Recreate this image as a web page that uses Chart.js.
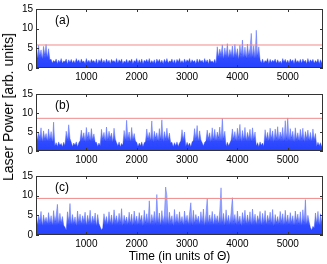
<!DOCTYPE html>
<html>
<head>
<meta charset="utf-8">
<script src="https://cdn.jsdelivr.net/npm/chart.js@4.4.1/dist/chart.umd.min.js"></script>
<style>
  body { margin:0; background:#fff; width:327px; height:264px; position:relative; overflow:hidden; font-family:"Liberation Sans", Arial, sans-serif; }
  canvas { position:absolute; left:0; }
  #ylab { position:absolute; left:8px; top:107px; transform:translate(-50%,-50%) rotate(-90deg); white-space:nowrap; font-size:14px; color:#000; }
</style>
</head>
<body>
<canvas id="pa" width="327" height="84" style="top:0px"></canvas>
<canvas id="pb" width="327" height="83" style="top:84px"></canvas>
<canvas id="pc" width="327" height="98" style="top:166px"></canvas>
<div id="ylab">Laser Power [arb. units]</div>
<script>
// sampling step of the traces (units of Theta)
var dt = 25;
var tEnd = 5700;
var timeTicks = [1000, 2000, 3000, 4000, 5000];
var powerTicks = [0, 5, 10, 15];
var panelLabels = ['(a)', '(b)', '(c)'];
var thresholds = [5.85, 8.6, 9.3];

// (a)
var powerA = [
  5.2,2.4,5.8,3.1,4.6,2.2,5.5,3.3,6.0,2.6,4.9,2.1,
  2.2,1.3,1.9,1.5,2.3,1.1,2.0,1.4,2.4,1.2,1.8,1.6,2.3,1.0,2.1,1.4,2.2,1.3,1.9,1.2,2.4,1.5,
  2.1,1.2,2.3,1.5,1.8,1.1,2.4,1.4,2.0,1.3,2.2,1.6,1.9,1.2,2.3,1.0,2.1,1.5,2.4,1.3,2.0,1.2,
  2.3,1.4,2.0,1.1,2.2,1.6,1.9,1.3,2.4,1.2,2.1,1.5,2.3,1.1,1.8,1.4,2.2,1.2,2.0,1.6,2.3,1.1,
  1.9,1.5,2.4,1.2,2.1,1.3,2.3,1.1,2.0,1.6,2.2,1.4,2.4,1.2,1.9,1.3,2.1,1.0,2.3,1.5,2.2,1.3,
  2.0,1.1,2.2,1.4,2.4,1.3,1.8,1.6,2.3,1.2,2.1,1.1,2.2,1.5,2.4,1.3,1.9,1.2,2.3,1.4,2.1,1.6,
  2.4,1.2,2.1,1.5,1.9,1.1,2.3,1.3,2.2,1.6,2.0,1.2,2.4,1.4,2.1,1.1,2.3,1.5,1.8,1.3,2.2,1.1,
  5.4,2.8,4.8,3.4,5.9,2.2,5.1,3.0,6.2,2.5,4.7,3.2,5.6,2.4,6.0,3.0,4.9,2.1,5.8,3.3,7.1,2.6,
  5.3,2.4,6.1,3.1,5.0,8.8,2.7,5.7,2.3,9.6,3.0,5.4,
  2.1,1.3,2.3,1.2,1.9,1.5,2.4,1.1,2.2,1.4,2.0,1.6,2.3,1.2,2.1,1.3,1.8,1.1,2.4,1.5,2.2,1.3,2.0,1.2,2.3,1.6,
  2.1,1.1,2.4,1.4,1.9,1.3,2.2,1.2,2.3,1.5,2.0,1.1,2.4,1.3,2.1,1.6,2.2,1.2,1.9,1.4,2.3,1.1,2.1,1.3,2.2
];

// (b)
var powerB = [
  5.6,2.8,4.9,3.5,6.1,2.4,5.3,3.2,4.6,2.6,5.8,3.0,5.1,2.3,7.6,
  1.3,2.2,1.2,2.4,1.5,2.0,1.1,2.3,1.4,
  5.2,2.9,6.9,3.3,
  2.3,1.2,2.1,1.5,2.4,1.1,2.2,
  2.7,5.5,3.1,4.8,2.4,6.2,3.4,5.0,2.6,5.9,3.0,4.5,2.3,
  2.3,1.2,2.1,1.4,
  5.7,3.2,4.9,2.5,6.3,2.9,5.2,3.5,4.7,2.3,6.0,3.1,
  2.2,1.3,2.4,1.1,2.0,1.5,
  5.4,2.8,8.1,3.3,5.0,2.4,6.2,3.0,4.6,2.6,
  2.3,1.2,2.1,1.4,2.4,1.1,2.2,
  2.5,5.8,3.2,4.9,2.7,7.9,2.3,5.2,3.4,4.8,2.6,5.9,3.0,8.2,2.4,5.1,3.1,6.0,2.8,4.7,2.2,
  2.3,1.1,2.2,1.4,2.4,1.2,2.1,
  2.6,5.6,3.0,5.0,
  1.2,2.3,1.4,2.1,1.1,2.4,
  2.8,5.9,3.2,6.7,2.5,5.3,2.9,
  2.2,1.3,2.3,
  2.6,5.5,3.3,4.8,2.4,6.1,3.0,5.7,2.7,5.0,3.4,6.3,2.5,8.6,3.1,5.2,
  1.2,2.3,1.4,2.1,
  2.9,5.8,3.2,5.1,2.6,6.0,3.5,7.0,2.4,5.4,3.0,6.2,2.7,4.9,3.3,5.7,2.5,6.1,3.1,5.0,
  1.3,2.2,1.1,2.4,1.5,2.1,1.2,
  5.6,3.0,4.9,2.6,6.0,3.3,5.3,2.4,5.8,3.2,6.4,2.8,5.0,3.5,6.2,2.5,8.0,3.1,8.7,2.7,5.9,
  3.4,5.2,2.3,6.1,3.0,4.8,2.6,5.7,3.2,6.0,2.4,5.1,3.3,5.5,2.8,4.9,2.5,5.8,3.0,4.6,
  1.2,2.3,1.4,2.2,1.1,2.3
];

// (c)
var powerC = [
  5.4,2.6,4.8,3.5,6.0,2.3,5.1,3.2,4.5,2.8,5.7,3.0,4.9,2.4,6.2,3.3,5.0,7.8,2.7,5.5,
  3.1,4.7,2.5,2.0,1.2,5.9,3.4,8.0,2.6,5.2,3.0,4.6,2.3,6.1,3.2,5.3,2.8,4.9,3.5,5.8,
  2.4,5.0,3.1,6.3,2.7,4.8,3.3,5.6,2.2,5.2,2.9,2.1,1.3,1.8,5.4,3.2,4.7,2.6,5.9,3.0,
  5.1,2.5,6.4,3.4,4.9,2.8,5.5,3.1,6.7,2.3,5.0,3.3,4.6,2.7,5.8,3.0,5.3,2.4,6.1,3.2,
  4.8,2.6,5.7,3.5,5.0,2.2,6.3,3.1,5.4,2.8,8.7,2.5,5.2,3.3,6.0,2.7,10.3,3.0,5.6,2.4,
  6.2,3.2,5.1,12.2,10.0,2.6,5.8,3.4,4.9,2.3,6.5,3.0,5.3,2.8,5.9,3.1,4.7,2.5,6.1,3.3,
  5.0,2.7,5.6,8.2,2.4,6.3,3.0,5.2,3.5,4.8,2.6,5.9,3.2,6.6,2.3,5.4,9.2,2.9,5.1,3.1,
  6.0,2.5,5.3,3.4,4.9,2.8,6.2,12.0,3.0,5.5,2.4,6.4,3.2,5.0,2.7,5.8,9.5,3.3,5.2,2.6,
  6.1,3.1,4.8,2.3,5.7,3.4,6.3,2.8,5.1,3.0,5.9,2.5,6.6,3.2,5.3,2.7,4.9,3.5,6.0,2.4,
  5.5,3.0,6.2,2.6,5.0,3.3,5.8,2.9,6.5,2.2,5.2,3.1,4.7,2.8,6.0,3.4,5.4,2.5,6.3,3.0,
  5.1,2.7,5.7,3.2,4.9,2.4,6.1,3.5,5.3,2.8,5.9,2.3,6.4,3.1,9.0,2.6,5.0,3.3,1.9,1.2,
  2.2,1.8,5.6,3.0,6.0,2.5,5.4,3.2,5.8
];

var fontFam = '"Liberation Sans", Arial, sans-serif';

function toPoints(arr) {
  var out = [];
  for (var i = 0; i < arr.length; i++) out.push({x: i * dt, y: arr[i]});
  return out;
}

// dense core bright blue, tips paler
function traceFill(context) {
  var chart = context.chart, ys = chart.scales.y;
  if (!chart.chartArea || !ys) return 'rgba(30,60,255,0.8)';
  var y0 = ys.getPixelForValue(0), y15 = ys.getPixelForValue(15);
  var g = chart.ctx.createLinearGradient(0, y0, 0, y15);
  g.addColorStop(0, 'rgba(25,55,255,0.95)');
  g.addColorStop(2.5 / 15, 'rgba(25,55,255,0.9)');
  g.addColorStop(5 / 15, 'rgba(40,70,255,0.5)');
  g.addColorStop(1, 'rgba(60,90,255,0.3)');
  return g;
}

// matlab-ish box with inward ticks + panel letter
var boxPlugin = {
  id: 'box',
  afterDatasetsDraw: function(chart, args, opts) {
    var ca = chart.chartArea, ctx = chart.ctx;
    var xs = chart.scales.x, ys = chart.scales.y;
    ctx.save();
    ctx.strokeStyle = '#333';
    ctx.lineWidth = 1;
    ctx.strokeRect(ca.left + 0.5, ca.top + 0.5, ca.right - ca.left - 1, ca.bottom - ca.top - 1);
    ctx.beginPath();
    timeTicks.forEach(function(v) {
      var px = Math.round(xs.getPixelForValue(v)) + 0.5;
      ctx.moveTo(px, ca.bottom); ctx.lineTo(px, ca.bottom - 3);
      ctx.moveTo(px, ca.top); ctx.lineTo(px, ca.top + 3);
    });
    powerTicks.forEach(function(v) {
      var py = Math.round(ys.getPixelForValue(v)) + 0.5;
      ctx.moveTo(ca.left, py); ctx.lineTo(ca.left + 3, py);
      ctx.moveTo(ca.right, py); ctx.lineTo(ca.right - 3, py);
    });
    ctx.stroke();
    ctx.fillStyle = '#000';
    ctx.font = '12px ' + fontFam;
    ctx.textAlign = 'left';
    ctx.textBaseline = 'middle';
    ctx.fillText(opts.label, ca.left + 19, ca.top + 12);
    ctx.restore();
  }
};

function makePanel(id, values, thr, label, padTop, withTitle) {
  return new Chart(document.getElementById(id), {
    type: 'line',
    data: {
      datasets: [
        { data: [{x: 0, y: thr}, {x: tEnd, y: thr}], borderColor: '#f08a8a', borderWidth: 1, pointRadius: 0 },
        { data: toPoints(values), borderColor: 'rgba(30,60,255,0.45)', borderWidth: 0.8,
          fill: 'origin', backgroundColor: traceFill, pointRadius: 0 }
      ]
    },
    options: {
      responsive: false,
      animation: false,
      events: [],
      layout: { padding: { top: padTop, right: 4, left: 0, bottom: 0 } },
      plugins: { legend: { display: false }, tooltip: { enabled: false }, box: { label: label } },
      scales: {
        x: {
          type: 'linear', min: 0, max: tEnd,
          grid: { display: false, drawTicks: false },
          border: { display: false },
          afterBuildTicks: function(s) { s.ticks = timeTicks.map(function(v) { return {value: v}; }); },
          ticks: { font: { family: fontFam, size: 10 }, color: '#000', padding: 3, maxRotation: 0,
                   callback: function(v) { return String(v); } },
          title: { display: withTitle, text: 'Time (in units of Θ)', color: '#000',
                   font: { family: fontFam, size: 12 }, padding: { top: 1, bottom: 0 } },
          afterFit: function(s) { s.height = withTitle ? 29 : 16; }
        },
        y: {
          min: 0, max: 15,
          grid: { display: false, drawTicks: false },
          border: { display: false },
          afterBuildTicks: function(s) { s.ticks = powerTicks.map(function(v) { return {value: v}; }); },
          ticks: { font: { family: fontFam, size: 10 }, color: '#000', padding: 3 },
          afterFit: function(s) { s.width = 36; }
        }
      }
    },
    plugins: [boxPlugin]
  });
}

makePanel('pa', powerA, thresholds[0], panelLabels[0], 9, false);
makePanel('pb', powerB, thresholds[1], panelLabels[1], 10, false);
makePanel('pc', powerC, thresholds[2], panelLabels[2], 10, true);
</script>
</body>
</html>
